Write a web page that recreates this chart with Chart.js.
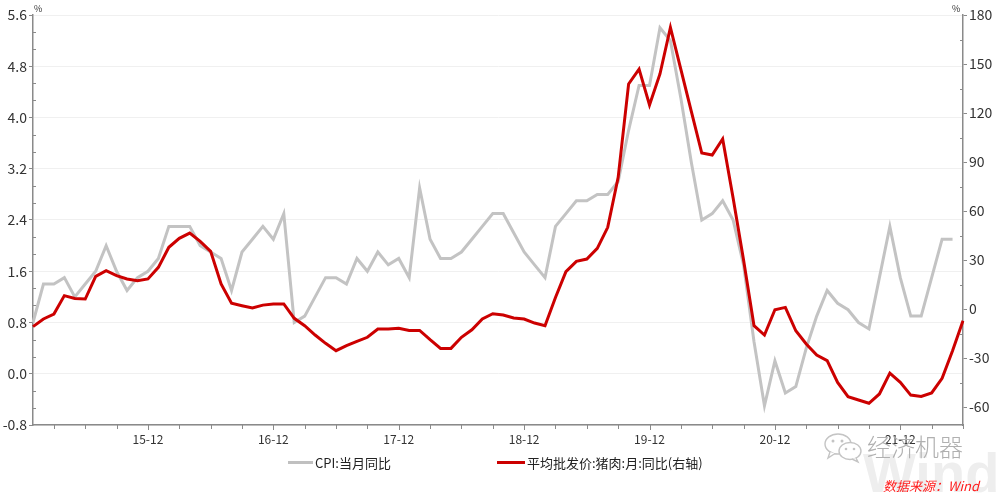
<!DOCTYPE html>
<html><head><meta charset="utf-8">
<script src="https://cdn.jsdelivr.net/npm/chart.js@4"></script>
<style>
html,body{margin:0;padding:0;background:#fff;overflow:hidden}
#wrap{position:relative;width:1000px;height:494px;font-family:"Noto Sans CJK SC","Noto Sans",sans-serif}
canvas{position:absolute;left:0;top:0}
.abs{position:absolute;white-space:nowrap}
</style></head>
<body><div id="wrap"><canvas id="c" width="1000" height="494"></canvas>
<div class="abs" style="left:34px;top:2px;font-size:9px;color:#333">%</div>
<div class="abs" style="left:952px;top:2px;font-size:9px;color:#333">%</div>
<div class="abs" style="left:288px;top:461px;width:25px;height:3px;background:#c0c0c0"></div>
<div class="abs" style="left:315px;top:453px;font-size:13px;line-height:20px;color:#222">CPI:当月同比</div>
<div class="abs" style="left:497px;top:461px;width:28px;height:3px;background:#cc0000"></div>
<div class="abs" style="left:527px;top:453px;font-size:13px;line-height:20px;color:#222">平均批发价:猪肉:月:同比(右轴)</div>
<div class="abs" style="left:863px;top:445px;font-family:'Liberation Sans',Arial,sans-serif;font-weight:bold;font-size:56px;line-height:56px;color:#eeeeee">Wind</div>
<svg class="abs" style="left:823px;top:432px" width="42" height="32" viewBox="0 0 42 32">
<ellipse cx="15" cy="12" rx="13" ry="10" fill="#fff" stroke="#c4c4c4" stroke-width="1.4"/>
<path d="M7 20 L5 26 L12 21.5" fill="#fff" stroke="#c4c4c4" stroke-width="1.4"/>
<ellipse cx="27" cy="19" rx="11" ry="8.5" fill="#fff" stroke="#c4c4c4" stroke-width="1.4"/>
<path d="M33 26 L35 30 L29 27" fill="#fff" stroke="#c4c4c4" stroke-width="1.4"/>
<circle cx="10" cy="9" r="1.5" fill="#c4c4c4"/><circle cx="19" cy="9" r="1.5" fill="#c4c4c4"/>
<circle cx="23" cy="17" r="1.3" fill="#c4c4c4"/><circle cx="31" cy="17" r="1.3" fill="#c4c4c4"/>
</svg>
<div class="abs" style="left:867px;top:431px;font-size:24px;line-height:30px;font-weight:300;color:#b0b0b0">经济机器</div>
<div class="abs" style="left:883px;top:477px;font-size:13px;line-height:17px;font-style:italic;color:#ff1a1a">数据来源：Wind</div>
</div>
<script>
const months = [
 '15-01','15-02','15-03','15-04','15-05','15-06','15-07','15-08','15-09','15-10','15-11','15-12',
 '16-01','16-02','16-03','16-04','16-05','16-06','16-07','16-08','16-09','16-10','16-11','16-12',
 '17-01','17-02','17-03','17-04','17-05','17-06','17-07','17-08','17-09','17-10','17-11','17-12',
 '18-01','18-02','18-03','18-04','18-05','18-06','18-07','18-08','18-09','18-10','18-11','18-12',
 '19-01','19-02','19-03','19-04','19-05','19-06','19-07','19-08','19-09','19-10','19-11','19-12',
 '20-01','20-02','20-03','20-04','20-05','20-06','20-07','20-08','20-09','20-10','20-11','20-12',
 '21-01','21-02','21-03','21-04','21-05','21-06','21-07','21-08','21-09','21-10','21-11','21-12',
 '22-01','22-02','22-03','22-04','22-05','22-06'];
const cpiYoY = [
 0.8,1.4,1.4,1.5,1.2,1.4,1.6,2.0,1.6,1.3,1.5,1.6,
 1.8,2.3,2.3,2.3,2.0,1.9,1.8,1.3,1.9,2.1,2.3,2.1,
 2.5,0.8,0.9,1.2,1.5,1.5,1.4,1.8,1.6,1.9,1.7,1.8,
 1.5,2.9,2.1,1.8,1.8,1.9,2.1,2.3,2.5,2.5,2.2,1.9,
 1.7,1.5,2.3,2.5,2.7,2.7,2.8,2.8,3.0,3.8,4.5,4.5,
 5.4,5.2,4.3,3.3,2.4,2.5,2.7,2.4,1.7,0.5,-0.5,0.2,
 -0.3,-0.2,0.4,0.9,1.3,1.1,1.0,0.8,0.7,1.5,2.3,1.5,
 0.9,0.9,1.5,2.1,2.1,null];
const porkYoY = [
 -10.8,-6.1,-3.1,8.2,6.5,6.1,20.0,23.5,20.4,18.4,17.3,18.4,
 25.5,37.8,43.3,46.5,41.4,35.3,15.3,3.5,2.0,0.6,2.4,3.1,
 3.1,-5.7,-10.2,-15.9,-21.0,-25.5,-22.4,-19.8,-17.3,-12.2,-12.2,-11.8,
 -13.1,-13.1,-18.8,-24.1,-24.1,-17.3,-12.7,-6.1,-2.9,-3.7,-5.5,-6.1,
 -8.6,-10.2,7.1,22.9,29.2,30.6,37.1,50.0,80.6,137.8,146.9,124.9,
 143.9,172.4,146.7,121.0,95.5,94.3,104.1,68.0,30.0,-10.2,-15.9,-0.4,
 1.0,-13.3,-21.4,-28.2,-31.6,-44.9,-53.7,-55.7,-57.7,-52.0,-39.2,-44.9,
 -52.7,-53.5,-51.4,-42.4,-25.5,-7.2];
const leftTicks = [-0.8,0.0,0.8,1.6,2.4,3.2,4.0,4.8,5.6];
const rightTicks = [-60,-30,0,30,60,90,120,150,180];

const AXIS = '#8a8a8a';
const FONT = '"Noto Sans CJK SC","Noto Sans",sans-serif';

const tickPlugin = {
  id: 'extraTicks',
  afterDraw(chart) {
    const {ctx, scales:{x, y, y1}} = chart;
    ctx.save();
    ctx.strokeStyle = AXIS; ctx.lineWidth = 1;
    ctx.beginPath();
    for (let i = 0; i < leftTicks.length - 1; i++) {
      for (let k = 1; k < 3; k++) {
        const v = leftTicks[i] + (leftTicks[i+1] - leftTicks[i]) * k / 3;
        const p = Math.round(y.getPixelForValue(v)) + 0.5;
        ctx.moveTo(y.right, p); ctx.lineTo(y.right + 3, p);
      }
    }
    for (let i = 0; i < rightTicks.length; i++) {
      const v = rightTicks[i] + 15;
      if (v > y1.max || v < y1.min) continue;
      const p = Math.round(y1.getPixelForValue(v)) + 0.5;
      ctx.moveTo(y1.left - 3, p); ctx.lineTo(y1.left, p);
    }
    months.forEach((m, i) => {
      const mm = parseInt(m.slice(3), 10);
      if (mm % 3 !== 0) return;
      const p = Math.round(x.getPixelForValue(i)) + 0.5;
      ctx.moveTo(p, x.top); ctx.lineTo(p, x.top + (mm === 12 ? 5 : 4));
    });
    ctx.stroke();
    ctx.restore();
  }
};

new Chart(document.getElementById('c'), {
  type: 'line',
  data: {
    labels: months,
    datasets: [
      {label: '平均批发价:猪肉:月:同比(右轴)', data: porkYoY, yAxisID: 'y1', borderColor: '#cc0000', backgroundColor: '#cc0000', borderWidth: 3, pointRadius: 0, tension: 0, order: 0},
      {label: 'CPI:当月同比', data: cpiYoY, yAxisID: 'y', borderColor: '#c3c3c3', backgroundColor: '#c3c3c3', borderWidth: 3, pointRadius: 0, tension: 0, order: 1}
    ]
  },
  options: {
    responsive: false, animation: false,
    layout: {padding: {top: 15, left: 0, right: 0, bottom: 39}},
    plugins: {legend: {display: false}, tooltip: {enabled: false}},
    scales: {
      x: {
        type: 'category', offset: false,
        grid: {display: true, drawOnChartArea: false, drawTicks: true, tickLength: 4, tickColor: 'transparent'},
        border: {display: true, color: AXIS, width: 1.5},
        ticks: {autoSkip: false, maxRotation: 0, padding: 3, color: '#333', font: {family: FONT, size: 12},
          callback: (v, i) => months[i].endsWith('-12') ? months[i] : ''},
        afterFit: s => { s.height = 30; }
      },
      y: {
        position: 'left', min: -0.8, max: 5.6,
        afterBuildTicks: s => { s.ticks = leftTicks.map(v => ({value: v})); },
        grid: {color: '#f0f0f0', lineWidth: 1, drawTicks: true, tickLength: 4, tickColor: AXIS},
        border: {display: true, color: AXIS, width: 1.5},
        ticks: {padding: 2, color: '#333', font: {family: FONT, size: 14}, callback: v => v.toFixed(1)},
        afterFit: s => { s.width = 33; }
      },
      y1: {
        position: 'right', min: -71, max: 180,
        afterBuildTicks: s => { s.ticks = rightTicks.map(v => ({value: v})); },
        grid: {drawOnChartArea: false, drawTicks: true, tickLength: 4, tickColor: AXIS},
        border: {display: true, color: AXIS, width: 1.5},
        ticks: {padding: 2, color: '#333', font: {family: FONT, size: 14}, callback: v => String(v)},
        afterFit: s => { s.width = 37; }
      }
    }
  },
  plugins: [tickPlugin]
});
</script></body></html>
